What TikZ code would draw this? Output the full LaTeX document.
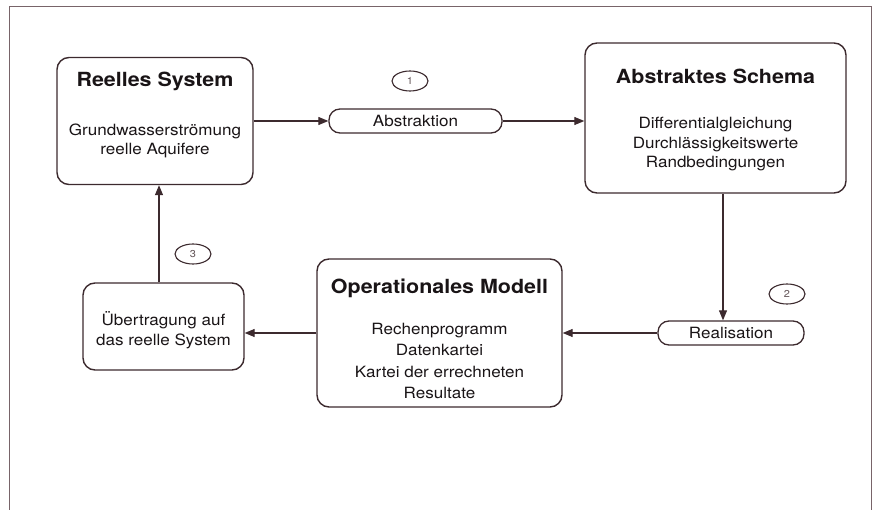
\documentclass[tikz,border=0pt]{standalone}
\usepackage{fontspec}
\setmainfont{TeX Gyre Heros}[FakeStretch=1.1]
\usetikzlibrary{arrows.meta,shapes.geometric}
\definecolor{lc}{RGB}{60,42,46}
\definecolor{fc}{RGB}{120,100,105}
\definecolor{tc}{RGB}{25,20,22}
\tikzset{
  box/.style={draw=lc,line width=1.4pt,rounded corners=12pt,minimum width=#1},
  pill/.style={draw=lc,line width=1.3pt,rounded corners=11pt,inner sep=0pt},
  num/.style={draw=lc,line width=1.1pt,ellipse,minimum width=36pt,minimum height=20pt,inner sep=0pt,font=\fontsize{10}{11}\selectfont,text=lc!80},
  ttl/.style={font=\fontsize{19.5}{22}\bfseries\selectfont,text=tc},
  body/.style={font=\fontsize{15.5}{19.5}\selectfont,text=tc,align=center},
  arr/.style={draw=lc,line width=1.1pt,-{Triangle[length=10pt,width=8pt]}}
}
\begin{document}
\begin{tikzpicture}[x=1pt,y=-1pt]
\useasboundingbox (0,0) rectangle (875,510);
\draw[fc,line width=0.9pt] (9,510) -- (9,6) -- (871,6) -- (871,510);
% Reelles System
\node[box=196pt,minimum height=127pt] (rs) at (155,121) {};
\node[ttl] (rst) at (155,81) {Reelles System};
\node[body] (rsb) at (155,141) {Grundwasserströmung\\reelle Aquifere};
% Abstraktion
\node[pill,minimum width=173pt,minimum height=24pt,body] (ab) at (415.5,121) {Abstraktion};
\node[num] (c1) at (410,81) {1};
% Abstraktes Schema
\node[box=261pt,minimum height=150pt] (as) at (715.5,118) {};
\node[ttl] (ast) at (715.5,76) {Abstraktes Schema};
\node[body] (asb) at (715.5,144.5) {Differentialgleichung\\Durchlässigkeitswerte\\Randbedingungen};
% Realisation
\node[pill,minimum width=146pt,minimum height=24pt,body] (re) at (731,333) {Realisation};
\node[num] (c2) at (787,294) {2};
% Operationales Modell
\node[box=245pt,minimum height=148pt] (op) at (439.5,333) {};
\node[ttl] (opt) at (439.5,288) {Operationales Modell};
\node[body,font=\fontsize{15.5}{21.2}\selectfont] (opb) at (439.5,361) {Rechenprogramm\\Datenkartei\\Kartei der errechneten\\Resultate};
% Uebertragung
\node[box=161pt,minimum height=87pt] (ub) at (163.5,326.5) {};
\node[body,font=\fontsize{15.5}{20}\selectfont] (ubb) at (163.5,330) {Übertragung auf\\das reelle System};
\node[num] (c3) at (193,254) {3};
% connectors
\coordinate (v2) at ([xshift=-8pt]re.north);
\coordinate (v3) at ([xshift=-4.5pt]ub.north);
\draw[arr] (rs.east) -- (ab.west);
\draw[arr] (ab.east) -- (as.west |- ab.east);
\draw[arr] (as.south -| v2) -- (v2);
\draw[arr] (re.west) -- (op.east |- re.west);
\draw[arr] (op.west) -- (ub.east |- op.west);
\draw[arr] (v3) -- (rs.south -| v3);
\end{tikzpicture}
\end{document}
